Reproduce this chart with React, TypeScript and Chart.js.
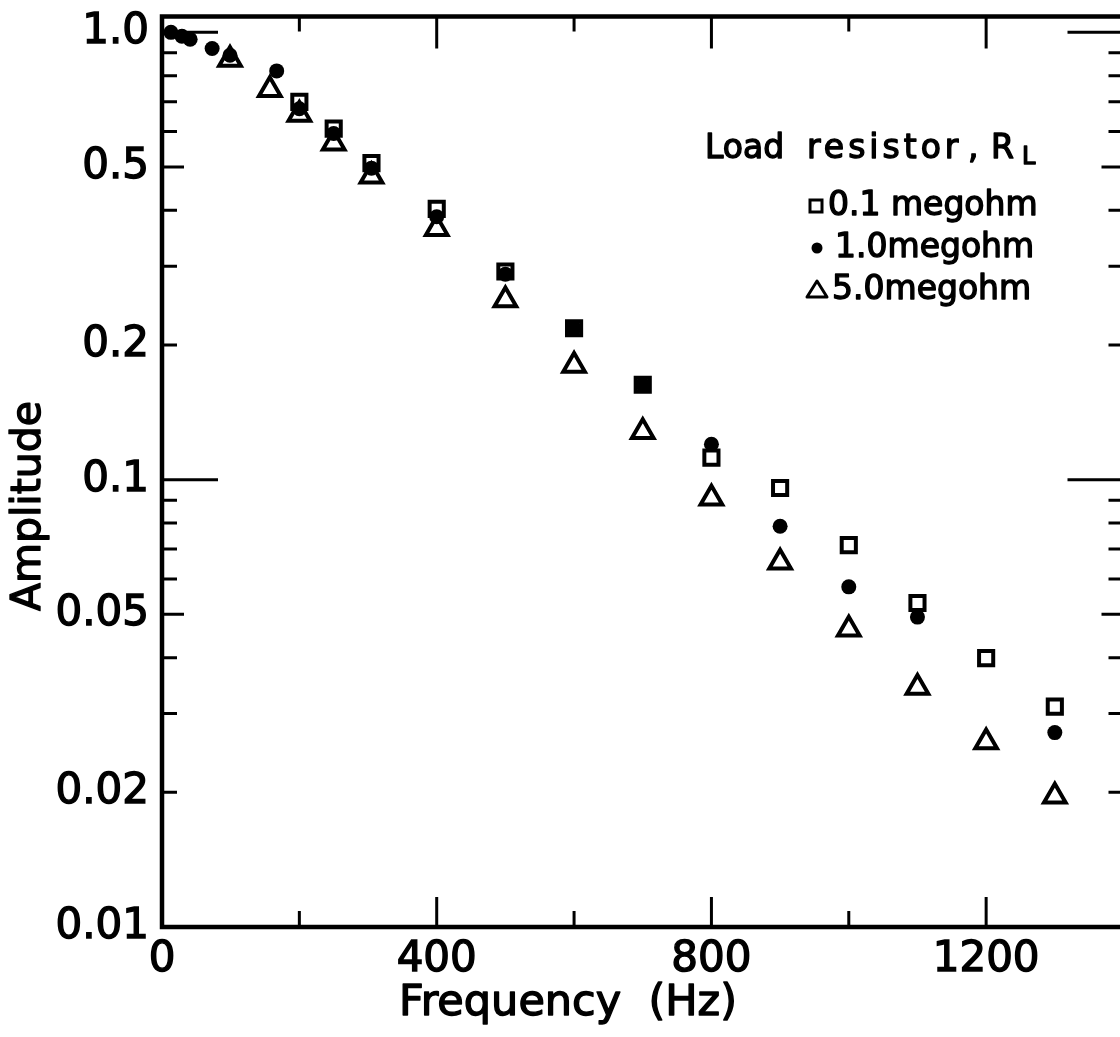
import React, { useEffect, useRef } from 'react';
import { Chart, registerables } from 'chart.js';

Chart.register(...registerables);

// ---- data ----
const freqSquare = [200, 250, 305, 400, 500, 600, 700, 800, 900, 1000, 1100, 1200, 1300];
const ampSquare = [0.699, 0.609, 0.51, 0.403, 0.292, 0.218, 0.163, 0.112, 0.0958, 0.0714, 0.053, 0.0399, 0.0311];

const freqCircle = [13, 29, 41, 73, 99, 167, 200, 250, 305, 400, 500, 600, 700, 800, 900, 1000, 1100, 1300];
const ampCircle = [1.0, 0.98, 0.965, 0.92, 0.889, 0.82, 0.675, 0.594, 0.497, 0.387, 0.288, 0.218, 0.163, 0.12, 0.0787, 0.0576, 0.0493, 0.0272];

const freqTriangle = [99, 157, 200, 250, 305, 400, 500, 600, 700, 800, 900, 1000, 1100, 1200, 1300];
const ampTriangle = [0.87, 0.744, 0.655, 0.565, 0.477, 0.364, 0.252, 0.18, 0.128, 0.0909, 0.0654, 0.0463, 0.0343, 0.0259, 0.0196];

const yTickValues = [0.01, 0.02, 0.05, 0.1, 0.2, 0.5, 1.0];
const yTickLabels = ['0.01', '0.02', '0.05', '0.1', '0.2', '0.5', '1.0'];
const xTickValues = [0, 400, 800, 1200];
const xTickLabels = ['0', '400', '800', '1200'];

const xTitle = 'Frequency  (Hz)';
const yTitle = 'Amplitude';
const legendTitleWords = ['Load', 'resistor', ',', 'R', 'L'];
const legendLabels = ['0.1 megohm', '1.0megohm', '5.0megohm'];

const FONT = '"DejaVu Sans", sans-serif';

function heavyText(ctx: CanvasRenderingContext2D, t: string, x: number, y: number, w = 1.4) {
  ctx.fillText(t, x, y);
  ctx.lineWidth = w;
  ctx.lineJoin = 'round';
  ctx.strokeText(t, x, y);
}

const decorPlugin = {
  id: 'decor',
  afterDraw(chart: any) {
    const { ctx, chartArea: a, scales } = chart;
    const xs = scales.x;
    const ys = scales.y;
    ctx.save();
    ctx.strokeStyle = '#000';
    ctx.fillStyle = '#000';
    ctx.lineCap = 'butt';

    // frame
    ctx.lineWidth = 4.5;
    ctx.strokeRect(a.left, a.top, a.right - a.left, a.bottom - a.top);

    // inward y ticks (left and right)
    ctx.lineWidth = 3;
    for (const dec of [0.01, 0.1, 1]) {
      for (let k = 1; k <= 9; k++) {
        const v = dec * k;
        if (v > ys.max) break;
        const y = ys.getPixelForValue(v);
        const len = k === 1 ? 56 : k === 5 ? 22 : 15;
        ctx.beginPath();
        ctx.moveTo(a.left, y);
        ctx.lineTo(a.left + len, y);
        ctx.moveTo(a.right, y);
        ctx.lineTo(a.right - len, y);
        ctx.stroke();
      }
    }
    // inward x ticks (top and bottom)
    for (let v = 200; v < xs.max; v += 200) {
      const x = xs.getPixelForValue(v);
      const major = v % 400 === 0;
      ctx.beginPath();
      ctx.moveTo(x, a.top);
      ctx.lineTo(x, a.top + (major ? 32 : 15));
      ctx.moveTo(x, a.bottom);
      ctx.lineTo(x, a.bottom - (major ? 30 : 16));
      ctx.stroke();
    }

    // axis titles
    ctx.textAlign = 'center';
    ctx.textBaseline = 'middle';
    ctx.font = `43px ${FONT}`;
    heavyText(ctx, xTitle, 568, 1004);
    ctx.save();
    ctx.translate(29, 506);
    ctx.rotate(-Math.PI / 2);
    ctx.font = `41px ${FONT}`;
    heavyText(ctx, yTitle, 0, 0);
    ctx.restore();

    // legend
    ctx.textAlign = 'left';
    ctx.font = `33px ${FONT}`;
    const ty = 149;
    heavyText(ctx, legendTitleWords[0], 705, ty);
    (ctx as any).letterSpacing = '4px';
    heavyText(ctx, legendTitleWords[1], 807, ty);
    (ctx as any).letterSpacing = '0px';
    heavyText(ctx, legendTitleWords[2], 968, ty);
    heavyText(ctx, legendTitleWords[3], 991, ty);
    ctx.font = `24px ${FONT}`;
    heavyText(ctx, legendTitleWords[4], 1022, ty + 9);

    ctx.font = `33px ${FONT}`;
    const rows = [206, 248, 290];
    const textX = [828, 835, 832];
    legendLabels.forEach((t, i) => heavyText(ctx, t, textX[i], rows[i]));

    // legend markers
    ctx.lineWidth = 3;
    ctx.lineJoin = 'miter';
    ctx.strokeRect(810, rows[0] - 6, 12, 12);
    ctx.beginPath();
    ctx.arc(817, rows[1], 5.5, 0, Math.PI * 2);
    ctx.fill();
    ctx.beginPath();
    ctx.moveTo(817, rows[2] - 9);
    ctx.lineTo(827, rows[2] + 7);
    ctx.lineTo(807, rows[2] + 7);
    ctx.closePath();
    ctx.lineJoin = 'round';
    ctx.stroke();

    ctx.restore();
  },
};

export default function App() {
  const ref = useRef<HTMLCanvasElement | null>(null);

  useEffect(() => {
    if (!ref.current) return;
    const toPts = (xs: number[], ys: number[]) => xs.map((x, i) => ({ x, y: ys[i] }));
    const zeroPad = (s: any) => {
      s.paddingTop = 0;
      s.paddingBottom = 0;
      s.paddingLeft = 0;
      s.paddingRight = 0;
    };
    const chart = new Chart(ref.current, {
      type: 'scatter',
      data: {
        datasets: [
          {
            label: '5.0 megohm',
            data: toPts(freqTriangle, ampTriangle),
            pointStyle: 'triangle',
            pointRadius: 12.5,
            borderWidth: 4,
            borderColor: '#000',
            backgroundColor: 'rgba(0,0,0,0)',
          },
          {
            label: '1.0 megohm',
            data: toPts(freqCircle, ampCircle),
            pointStyle: 'circle',
            pointRadius: 7.5,
            borderWidth: 0,
            borderColor: '#000',
            backgroundColor: '#000',
          },
          {
            label: '0.1 megohm',
            data: toPts(freqSquare, ampSquare),
            pointStyle: 'rect',
            pointRadius: 10,
            borderWidth: 4,
            borderColor: '#000',
            backgroundColor: 'rgba(0,0,0,0)',
          },
        ],
      },
      options: {
        animation: false,
        responsive: false,
        maintainAspectRatio: false,
        layout: { padding: { top: 9, right: 16, bottom: 0, left: 0 } },
        plugins: {
          legend: { display: false },
          tooltip: { enabled: false },
        },
        scales: {
          x: {
            type: 'linear',
            min: 0,
            max: 1400,
            grid: { display: false },
            border: { display: false },
            afterBuildTicks: (s: any) => {
              s.ticks = xTickValues.map((v) => ({ value: v }));
            },
            afterFit: (s: any) => {
              s.height = 110;
              zeroPad(s);
            },
            ticks: {
              autoSkip: false,
              maxRotation: 0,
              padding: 0,
              color: '#000',
              textStrokeColor: '#000',
              textStrokeWidth: 1.4,
              font: { family: FONT, size: 42 },
              callback: (v: any) => {
                const i = xTickValues.indexOf(Number(v));
                return i >= 0 ? xTickLabels[i] : '';
              },
            },
          },
          y: {
            type: 'logarithmic',
            min: 0.01,
            max: 1.085,
            grid: { display: false },
            border: { display: false },
            afterBuildTicks: (s: any) => {
              s.ticks = yTickValues.map((v) => ({ value: v }));
            },
            afterFit: (s: any) => {
              s.width = 162;
              zeroPad(s);
            },
            ticks: {
              autoSkip: false,
              padding: 5,
              color: '#000',
              textStrokeColor: '#000',
              textStrokeWidth: 1.4,
              font: { family: FONT, size: 42 },
              callback: (v: any) => {
                let best = 0;
                yTickValues.forEach((t, i) => {
                  if (Math.abs(Math.log10(t) - Math.log10(Number(v))) < Math.abs(Math.log10(yTickValues[best]) - Math.log10(Number(v)))) best = i;
                });
                return yTickLabels[best];
              },
            },
          },
        },
      },
      plugins: [decorPlugin],
    } as any);
    return () => chart.destroy();
  }, []);

  return (
    <div style={{ position: 'absolute', left: 0, top: 0, width: 1120, height: 1037, overflow: 'hidden', background: '#fff' }}>
      <canvas ref={ref} width={1140} height={1037} style={{ display: 'block', width: 1140, height: 1037 }} />
    </div>
  );
}
